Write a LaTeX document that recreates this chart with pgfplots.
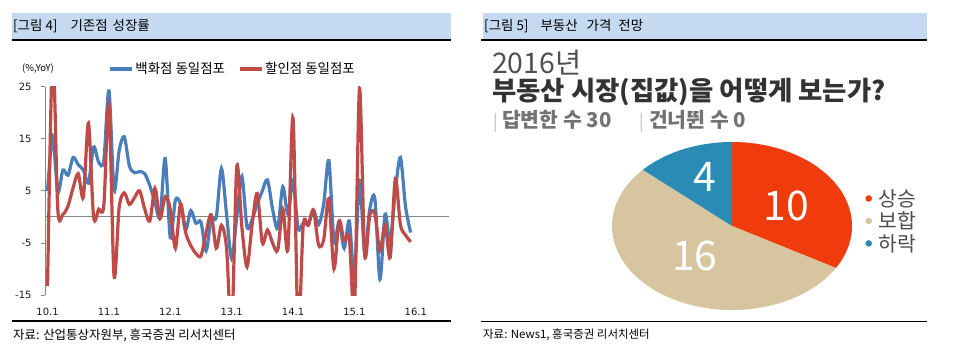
\documentclass[border=0pt]{standalone}
\usepackage{fontspec}
\setmainfont{Noto Sans CJK KR}
\newfontfamily\tickfont{DejaVu Sans}
\usepackage{pgfplots}
\usepackage{pgfplotstable}
\pgfplotsset{compat=1.18}
\definecolor{headerblue}{RGB}{197,217,241}
\definecolor{lblue}{RGB}{74,126,187}
\definecolor{lred}{RGB}{190,75,72}
\definecolor{axisgray}{RGB}{134,134,134}
\definecolor{pieRed}{RGB}{240,60,12}
\definecolor{pieBeige}{RGB}{215,197,160}
\definecolor{pieBlue}{RGB}{42,140,180}
\definecolor{titlegray}{RGB}{80,80,80}

% monthly YoY growth, 2010.1 (i=0) ... 2015.12 (i=71)
\pgfplotstableread{
i dept disc
0 5.0 -13.3
1 15.5 32
2 4.8 1.5
3 9.0 0.5
4 8.0 2.1
5 11.4 5.6
6 10.0 8.3
7 9.0 3.8
8 6.5 18.0
9 13.4 0.0
10 10.5 1.5
11 10.8 2.2
12 24.2 21.6
13 5.2 -11.3
14 12.7 1.8
15 15.4 4.6
16 9.8 2.4
17 8.5 3.7
18 8.7 5.0
19 8.3 1.5
20 6.0 -0.8
21 2.8 5.5
22 0.0 -0.3
23 11.2 3.9
24 -4.0 1.5
25 3.2 -6.0
26 2.5 2.5
27 -2.5 -3.0
28 1.2 -5.5
29 -1.2 -7.0
30 -1.0 -7.5
31 -6.5 -3.0
32 -0.3 0.4
33 0.0 -6.0
34 9.3 -1.6
35 0.5 -6.0
36 -8.0 -22
37 0.0 9.6
38 7.8 -2.0
39 -1.9 -9.6
40 -0.5 -1.5
41 2.5 4.5
42 5.0 -5.0
43 7.1 -2.5
44 1.5 -5.0
45 -2.2 -6.4
46 5.8 1.5
47 0.5 -6.2
48 7.0 19.0
49 -2.2 -22
50 -1.2 -1.6
51 -1.3 -1.6
52 1.3 1.3
53 -1.5 -5.4
54 2.5 -4.4
55 10.8 3.5
56 -4.5 -10.0
57 -1.0 -0.8
58 -6.0 -4.6
59 -0.8 -4.0
60 -11.5 -18
61 7.0 24.7
62 -6.8 -7.2
63 1.5 0.3
64 3.5 0.6
65 -12.0 -6.5
66 0.5 -1.5
67 -4.8 -7.8
68 5.0 7.3
69 11.4 -1.5
70 2.0 -3.5
71 -3.0 -4.8
}\growth

% survey answers
\def\vUp{10}
\def\vFlat{16}
\def\vDown{4}

\begin{document}
\begin{tikzpicture}
\useasboundingbox (0,0) rectangle (968bp,-358bp);

% ---------- left panel frame ----------
\fill[headerblue] (12bp,-13bp) rectangle (451bp,-39.5bp);
\draw[line width=1.2bp] (12bp,-40bp) -- (451bp,-40bp);
\node[anchor=west, inner sep=0pt, font=\fontsize{13.5}{15}\selectfont] at (13bp,-26.5bp)
  {[그림 4]\hspace{13bp}기존점\hspace{5bp}성장률};
\draw[line width=1.2bp] (12bp,-321bp) -- (451bp,-321bp);
\node[anchor=west, inner sep=0pt, font=\fontsize{12.5}{14}\selectfont] at (13bp,-335bp)
  {자료: 산업통상자원부, 흥국증권 리서치센터};
\node[anchor=west, inner sep=0pt, font=\fontsize{9.5}{11}\selectfont] at (22bp,-69bp) {(\%,YoY)};

% ---------- right panel frame ----------
\fill[headerblue] (483bp,-13bp) rectangle (927bp,-39.5bp);
\draw[line width=1.2bp] (481bp,-40bp) -- (927bp,-40bp);
\node[anchor=west, inner sep=0pt, font=\fontsize{13.5}{15}\selectfont] at (484bp,-26.5bp)
  {[그림 5]\hspace{12bp}부동산\hspace{9bp}가격\hspace{7bp}전망};
\draw[line width=1.2bp] (481bp,-321.5bp) -- (927bp,-321.5bp);
\node[anchor=west, inner sep=0pt, font=\fontsize{11.5}{13}\selectfont] at (483bp,-335bp)
  {자료: News1, 흥국증권 리서치센터};

\node[anchor=base west, inner sep=0pt, text=titlegray, font=\fontsize{28.5}{31}\selectfont] at (492bp,-73bp) {2016년};
\node[anchor=base west, inner sep=0pt, text=black!80, font=\fontsize{26.5}{30}\selectfont\bfseries] at (492bp,-100bp) {부동산 시장(집값)을 어떻게 보는가?};
\node[anchor=base west, inner sep=0pt, text=black!25, font=\fontsize{17}{20}\selectfont] at (493bp,-127bp) {|};
\node[anchor=base west, inner sep=0pt, text=black!55, font=\fontsize{20.5}{22}\selectfont\bfseries] at (502bp,-127bp) {답변한 수 30};
\node[anchor=base west, inner sep=0pt, text=black!25, font=\fontsize{17}{20}\selectfont] at (639bp,-127bp) {|};
\node[anchor=base west, inner sep=0pt, text=black!55, font=\fontsize{20.5}{22}\selectfont\bfseries] at (649bp,-127bp) {건너뛴 수 0};

% ---------- line chart ----------
\begin{axis}[
  at={(45bp,-295bp)}, anchor=south west,
  scale only axis, width=404bp, height=208.3bp,
  xmin=-0.5, xmax=78.5, ymin=-15, ymax=25,
  axis line style={draw=none},
  ytick={-15,-5,5,15,25},
  ytick pos=left, tick align=outside, major tick length=4bp,
  ytick style={draw=axisgray, line width=0.8bp},
  xtick={0,12,24,36,48,60,72},
  xticklabels={10.1,11.1,12.1,13.1,14.1,15.1,16.1},
  xtick style={draw=none}, xtick pos=bottom,
  /pgf/number format/assume math mode=true,
  tick label style={font=\tickfont\fontsize{10}{12}\selectfont, text=black!90},
  xticklabel style={yshift=-6bp},
  yticklabel style={xshift=-6bp},
  legend columns=2,
  legend style={at={(0.156,1.085)}, anchor=west, draw=none, fill=none,
    inner sep=0pt, font=\fontsize{13.5}{15}\selectfont,
    /tikz/every even column/.append style={column sep=11bp}},
  legend image code/.code={\draw[#1, line width=3.2bp] (0bp,0bp) -- (22bp,0bp);},
]
\draw[axisgray, line width=0.8bp] (axis cs:-0.5,-15) -- (axis cs:-0.5,25);
\addplot[forget plot, axisgray, line width=0.8bp] coordinates {(-0.5,0) (78.5,0)};
\addplot[lblue, line width=3.2bp, smooth, tension=0.5] table[x=i, y=dept] {\growth};
\addlegendentry{백화점 동일점포}
\addplot[lred, line width=3.2bp, smooth, tension=0.5] table[x=i, y=disc] {\growth};
\addlegendentry{할인점 동일점포}
\end{axis}

% ---------- pie ----------
\pgfmathsetmacro{\tot}{\vUp+\vFlat+\vDown}
\pgfmathsetmacro{\aA}{90-360*\vUp/\tot}
\pgfmathsetmacro{\aB}{\aA-360*\vFlat/\tot}
\pgfmathsetmacro{\aC}{\aB-360*\vDown/\tot}
\begin{axis}[
  at={(732bp,-226bp)}, anchor=center,
  scale only axis, width=240bp, height=168bp,
  xmin=-1, xmax=1, ymin=-1, ymax=1,
  hide axis, clip=false,
  legend style={at={(1.055,0.53)}, anchor=west, draw=none, fill=none,
    inner sep=0pt, font=\fontsize{20.5}{22}\selectfont, text=black!70,
    row sep=0bp},
  legend cell align=left,
  legend image code/.code={\fill[#1, draw=none] (0bp,0bp) circle (3.3bp); \path[draw=none, fill=none] (-3.3bp,0bp) rectangle (8bp,0.1bp);},
]
\fill[pieRed] (axis cs:0,0) -- +(90:120bp and 84bp) arc[start angle=90, end angle=\aA, x radius=120bp, y radius=84bp] -- cycle;
\fill[pieBeige] (axis cs:0,0) -- +(\aA:120bp and 84bp) arc[start angle=\aA, end angle=\aB, x radius=120bp, y radius=84bp] -- cycle;
\fill[pieBlue] (axis cs:0,0) -- +(\aB:120bp and 84bp) arc[start angle=\aB, end angle=\aC, x radius=120bp, y radius=84bp] -- cycle;
\node[text=white, font=\fontsize{41}{43}\selectfont] at (axis cs:0.455,0.24) {10};
\node[text=white, font=\fontsize{41}{43}\selectfont] at (axis cs:-0.31,-0.36) {16};
\node[text=white, font=\fontsize{41}{43}\selectfont] at (axis cs:-0.23,0.585) {4};
\addlegendimage{pieRed}
\addlegendentry{상승}
\addlegendimage{pieBeige}
\addlegendentry{보합}
\addlegendimage{pieBlue}
\addlegendentry{하락}
\end{axis}
\end{tikzpicture}
\end{document}
